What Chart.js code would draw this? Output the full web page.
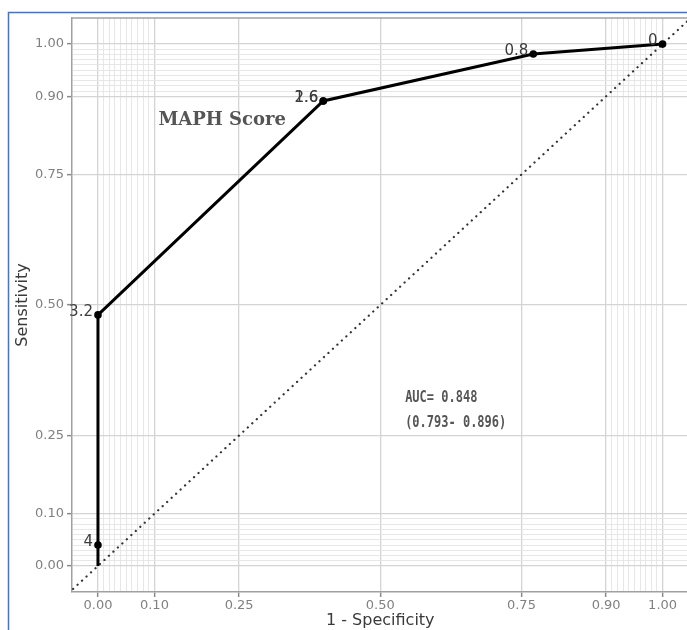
<!DOCTYPE html>
<html>
<head>
<meta charset="utf-8">
<script src="https://cdn.jsdelivr.net/npm/chart.js@4.4.1/dist/chart.umd.min.js"></script>
<style>
html,body{margin:0;padding:0;background:#fff;overflow:hidden;}
#wrap{position:relative;width:687px;height:630px;overflow:hidden;}
</style>
</head>
<body>
<div id="wrap"><canvas id="c" width="692" height="630"></canvas></div>
<script>
// ROC points (1 - specificity, sensitivity) with cutoff labels
const fpr = [0, 0, 0, 0.399, 0.399, 0.771, 1];
const tpr = [0, 0.04, 0.481, 0.891, 0.891, 0.981, 1];
const cutoffLabels = ['', '4', '3.2', '1.6', '2.6', '0.8', '0'];
// reference diagonal
const diagX = [-0.06, 1.06];
const diagY = [-0.06, 1.06];
// tick values
const majorTicks = [0, 0.1, 0.25, 0.5, 0.75, 0.9, 1];
const minorTicks = [0.01, 0.02, 0.03, 0.04, 0.05, 0.06, 0.07, 0.08, 0.09,
                    0.91, 0.92, 0.93, 0.94, 0.95, 0.96, 0.97, 0.98, 0.99];
const xTitle = '1 - Specificity';
const yTitle = 'Sensitivity';
const curveName = 'MAPH Score';
const aucLines = ['AUC= 0.848', '(0.793- 0.896)'];

const allTicks = majorTicks.concat(minorTicks).sort((a, b) => a - b);
const isMajor = v => majorTicks.includes(v);

function gridCfg() {
  return {
    color: c => (c.tick && isMajor(c.tick.value)) ? '#d4d4d4' : '#e4e4e4',
    lineWidth: c => (c.tick && isMajor(c.tick.value)) ? 1.3 : 0.9,
    tickColor: c => (c.tick && isMajor(c.tick.value)) ? '#8a8a8a' : 'rgba(0,0,0,0)',
    tickWidth: 1.5,
    tickLength: 5,
    drawOnChartArea: true
  };
}

const decor = {
  id: 'decor',
  afterDraw(chart) {
    const ctx = chart.ctx, a = chart.chartArea;
    const xs = chart.scales.x, ys = chart.scales.y;
    ctx.save();
    // top border of panel
    ctx.strokeStyle = '#a0a0a0'; ctx.lineWidth = 1.5;
    ctx.beginPath(); ctx.moveTo(a.left, a.top); ctx.lineTo(a.right, a.top); ctx.stroke();
    // outer blue frame
    ctx.strokeStyle = '#4a72c0'; ctx.lineWidth = 1.5;
    ctx.beginPath(); ctx.moveTo(8.5, 630); ctx.lineTo(8.5, 12.5); ctx.lineTo(692, 12.5); ctx.stroke();
    // axis titles
    ctx.fillStyle = '#3a3a3a';
    ctx.font = '16px "DejaVu Sans"';
    ctx.textAlign = 'center'; ctx.textBaseline = 'middle';
    ctx.fillText(xTitle, xs.getPixelForValue(0.5), 621);
    ctx.save();
    ctx.translate(23, (a.top + a.bottom) / 2);
    ctx.rotate(-Math.PI / 2);
    ctx.fillText(yTitle, 0, 0);
    ctx.restore();
    // cutoff labels
    ctx.font = '15px "DejaVu Sans"';
    ctx.fillStyle = '#3c3c3c';
    ctx.textAlign = 'right'; ctx.textBaseline = 'alphabetic';
    for (let i = 0; i < fpr.length; i++) {
      if (!cutoffLabels[i]) continue;
      const px = xs.getPixelForValue(fpr[i]), py = ys.getPixelForValue(tpr[i]);
      ctx.fillText(cutoffLabels[i], px - 5, py + 1);
    }
    // curve name
    ctx.font = 'bold 18px "DejaVu Serif"';
    ctx.fillStyle = '#555555';
    ctx.textAlign = 'center'; ctx.textBaseline = 'middle';
    ctx.fillText(curveName, xs.getPixelForValue(0.22), ys.getPixelForValue(0.854));
    // AUC text (condensed)
    ctx.font = 'bold 15px "DejaVu Sans Mono"';
    ctx.fillStyle = '#555555';
    ctx.textAlign = 'left';
    const ax = xs.getPixelForValue(0.544);
    const ay = [0.322, 0.274];
    aucLines.forEach((t, i) => {
      ctx.save();
      ctx.translate(ax, ys.getPixelForValue(ay[i]));
      ctx.scale(0.8, 1.1);
      ctx.fillText(t, 0, 0);
      ctx.restore();
    });
    ctx.restore();
  }
};

new Chart(document.getElementById('c'), {
  type: 'scatter',
  data: {
    datasets: [
      {
        data: diagX.map((x, i) => ({x: x, y: diagY[i]})),
        showLine: true,
        borderColor: '#333333',
        borderWidth: 2.2,
        borderDash: [0.1, 6],
        borderCapStyle: 'round',
        pointRadius: 0,
        order: 2
      },
      {
        data: fpr.map((x, i) => ({x: x, y: tpr[i]})),
        showLine: true,
        borderColor: '#000000',
        borderWidth: 3,
        pointRadius: c => cutoffLabels[c.dataIndex] ? 3.8 : 0,
        pointBackgroundColor: '#000000',
        pointBorderWidth: 0,
        order: 1
      }
    ]
  },
  options: {
    responsive: false,
    animation: false,
    devicePixelRatio: 1,
    layout: {padding: {left: 0, right: 0, top: 18, bottom: 0}},
    plugins: {legend: {display: false}, tooltip: {enabled: false}},
    scales: {
      x: {
        type: 'linear', min: -0.046, max: 1.045,
        afterBuildTicks: s => { s.ticks = allTicks.map(v => ({value: v})); },
        afterFit: s => { s.height = 38; },
        ticks: {
          autoSkip: false, maxRotation: 0, minRotation: 0, padding: 1,
          color: '#808080', font: {size: 13, family: 'DejaVu Sans'},
          callback: v => isMajor(v) ? v.toFixed(2) : ''
        },
        grid: gridCfg(),
        border: {color: '#a0a0a0', width: 1.5}
      },
      y: {
        type: 'linear', min: -0.05, max: 1.05,
        afterBuildTicks: s => { s.ticks = allTicks.map(v => ({value: v})); },
        afterFit: s => { s.width = 72; },
        ticks: {
          autoSkip: false, padding: 3,
          color: '#808080', font: {size: 13, family: 'DejaVu Sans'},
          callback: v => isMajor(v) ? v.toFixed(2) : ''
        },
        grid: gridCfg(),
        border: {color: '#a0a0a0', width: 1.5}
      }
    }
  },
  plugins: [decor]
});
</script>
</body>
</html>
